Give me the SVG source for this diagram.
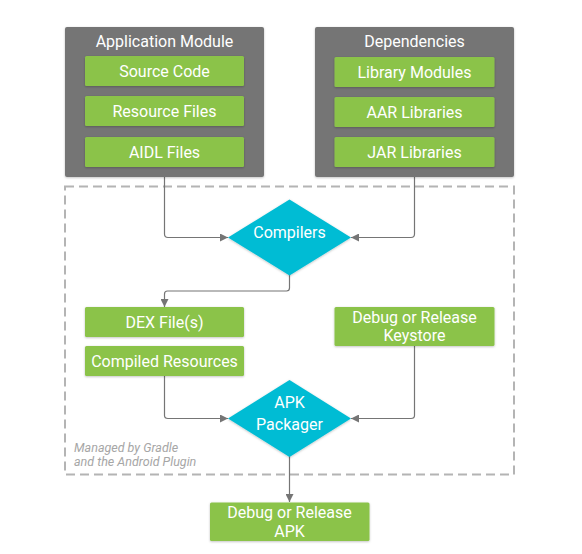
<svg xmlns="http://www.w3.org/2000/svg" width="582" height="554" viewBox="0 0 582 554">
<defs>
<style>
.grp{fill:#757575}
.grn{fill:#8BC34A}
.dia{fill:#00BCD4}
.t{font-family:Roboto,"Noto Sans",sans-serif;font-size:16px;font-weight:400;fill:#fff;text-anchor:middle}
.note{font-family:Roboto,"Noto Sans",sans-serif;font-size:12.5px;font-style:italic;fill:#a6a6a6}
.c{fill:none;stroke:#757575;stroke-width:1.2}
.box{filter:url(#sh)}
</style>
<filter id="sh" x="-10%" y="-10%" width="120%" height="130%">
<feDropShadow dx="0" dy="0.8" stdDeviation="0.8" flood-color="#000" flood-opacity="0.25"/>
</filter>
<marker id="ar" viewBox="0 0 10 10" refX="10" refY="5" markerWidth="9" markerHeight="8" markerUnits="userSpaceOnUse" orient="auto">
<path d="M0,0 L10,5 L0,10 z" fill="#757575"/>
</marker>
</defs>

<g id="managed">
<rect x="65" y="186.5" width="449" height="288" fill="none" stroke="#b4b4b4" stroke-width="2" stroke-dasharray="9,5"/>
<text class="note" x="74" y="452">Managed by Gradle</text>
<text class="note" x="74" y="466">and the Android Plugin</text>
</g>

<g id="connectors">
<path class="c" d="M164.5,177 V234 Q164.5,237.5 168,237.5 H228" marker-end="url(#ar)"/>
<path class="c" d="M414.5,177 V234 Q414.5,237.5 411,237.5 H351" marker-end="url(#ar)"/>
<path class="c" d="M289.5,275 V288 Q289.5,291 286.5,291 H167.5 Q164.5,291 164.5,294 V307" marker-end="url(#ar)"/>
<path class="c" d="M164.5,376 V415.5 Q164.5,418.5 168,418.5 H228" marker-end="url(#ar)"/>
<path class="c" d="M414.5,346 V415.5 Q414.5,418.5 411,418.5 H351" marker-end="url(#ar)"/>
<path class="c" d="M289.5,456 V502" marker-end="url(#ar)"/>
</g>

<g id="app-module">
<rect class="grp box" x="65" y="27" width="199" height="150" rx="2"/>
<text class="t" x="164.5" y="47">Application Module</text>
</g>
<g id="source-code">
<rect class="grn box" x="85" y="56" width="159" height="30" rx="1.5"/>
<text class="t" x="164.5" y="76.5">Source Code</text>
</g>
<g id="resource-files">
<rect class="grn box" x="85" y="96" width="159" height="30" rx="1.5"/>
<text class="t" x="164.5" y="116.5">Resource Files</text>
</g>
<g id="aidl-files">
<rect class="grn box" x="85" y="137" width="159" height="30" rx="1.5"/>
<text class="t" x="164.5" y="157.5">AIDL Files</text>
</g>

<g id="dependencies">
<rect class="grp box" x="315" y="27" width="199" height="150" rx="2"/>
<text class="t" x="414.5" y="47">Dependencies</text>
</g>
<g id="library-modules">
<rect class="grn box" x="334.5" y="57" width="160" height="30" rx="1.5"/>
<text class="t" x="414.5" y="77.5">Library Modules</text>
</g>
<g id="aar-libraries">
<rect class="grn box" x="334.5" y="97" width="160" height="30" rx="1.5"/>
<text class="t" x="414.5" y="117.5">AAR Libraries</text>
</g>
<g id="jar-libraries">
<rect class="grn box" x="334.5" y="137" width="160" height="30" rx="1.5"/>
<text class="t" x="414.5" y="157.5">JAR Libraries</text>
</g>

<g id="compilers">
<polygon class="dia box" points="289.5,199.5 351,237.5 289.5,275.5 228,237.5"/>
<text class="t" x="289.5" y="238">Compilers</text>
</g>

<g id="dex-files">
<rect class="grn box" x="85" y="307" width="159" height="30" rx="1.5"/>
<text class="t" x="164.5" y="327.5">DEX File(s)</text>
</g>
<g id="compiled-resources">
<rect class="grn box" x="85" y="346" width="159" height="30" rx="1.5"/>
<text class="t" x="164.5" y="366.5">Compiled Resources</text>
</g>
<g id="keystore">
<rect class="grn box" x="334.5" y="307" width="160" height="39" rx="1.5"/>
<text class="t" x="414.5" y="322.5">Debug or Release</text>
<text class="t" x="414.5" y="341">Keystore</text>
</g>

<g id="apk-packager">
<polygon class="dia box" points="289.5,380 351,418.5 289.5,457 228,418.5"/>
<text class="t" x="289.5" y="408">APK</text>
<text class="t" x="289.5" y="429.5">Packager</text>
</g>

<g id="apk">
<rect class="grn box" x="210" y="502.5" width="159.5" height="38.5" rx="1.5"/>
<text class="t" x="289.5" y="517.5">Debug or Release</text>
<text class="t" x="289.5" y="536.5">APK</text>
</g>
</svg>
